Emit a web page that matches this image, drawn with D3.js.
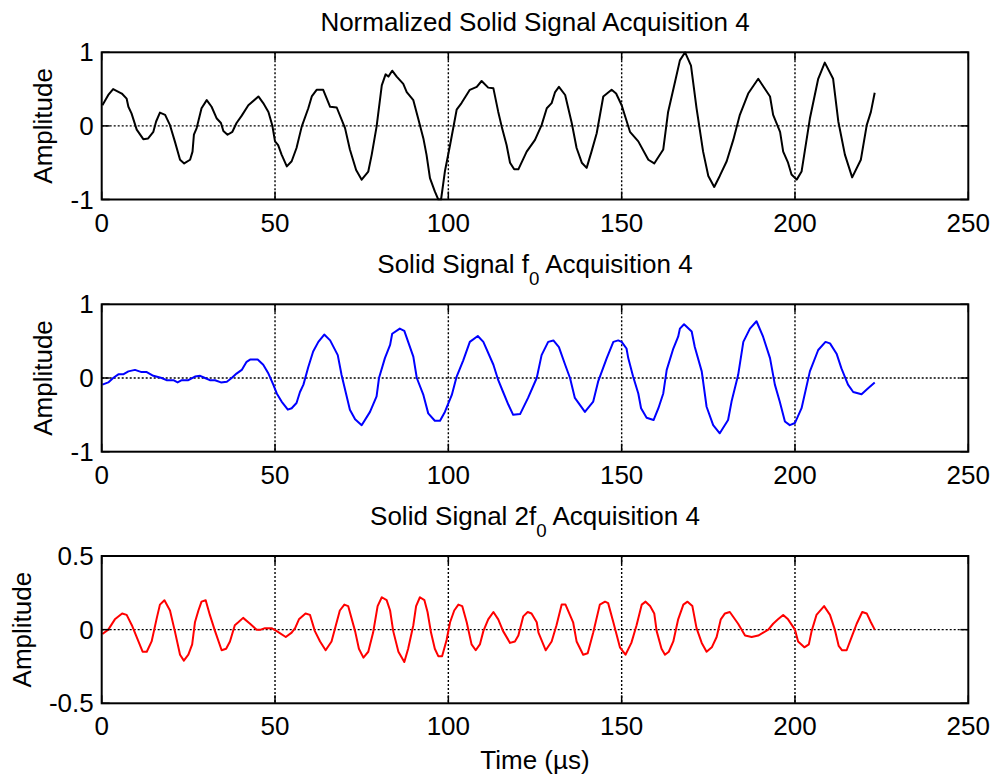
<!DOCTYPE html>
<html>
<head>
<meta charset="utf-8">
<script src="https://cdn.jsdelivr.net/npm/d3@7"></script>
<style>
  html, body { margin: 0; padding: 0; background: #fff; }
  svg text { font-family: "Liberation Sans", Arial, Helvetica, sans-serif; fill: #000; }
</style>
</head>
<body>
<svg id="fig" width="994" height="776"></svg>
<script>
// ---- Signal data (time in µs, amplitude) ----
const normT = [0.2,1.9,3.3,5.8,7.2,7.7,8.6,10.1,12.0,13.4,14.9,15.7,16.8,18.3,19.7,21.1,22.6,23.8,25.5,26.2,26.6,27.4,28.8,30.3,31.7,33.2,34.4,35.1,36.3,37.7,38.9,40.4,42.3,45.2,46.6,48.1,49.2,50.0,50.9,51.9,53.4,54.8,56.2,57.7,59.6,60.6,62.0,63.9,65.9,67.8,70.2,71.6,73.4,75.0,76.9,77.9,79.3,80.8,81.9,82.7,83.8,85.1,87.0,88.0,89.9,91.3,92.8,93.7,94.7,96.1,97.1,97.9,99.0,100.5,102.4,103.8,106.2,108.2,109.6,111.5,113.0,114.4,115.4,116.8,117.8,119.0,120.2,122.6,125.0,126.9,128.4,129.8,130.8,131.9,133.7,135.6,137.0,138.5,139.9,141.3,142.8,144.7,147.1,148.4,150.0,151.2,152.4,154.8,157.7,159.4,162.0,163.4,165.4,166.8,168.3,170.0,171.6,173.5,175.0,176.7,178.3,180.3,182.2,184.1,186.5,189.4,192.8,193.7,195.7,196.6,198.0,199.0,200.5,201.9,204.3,206.7,208.6,211.0,212.5,214.4,216.5,219.0,220.7,221.9,223.0];
const normA = [0.28,0.42,0.50,0.44,0.37,0.26,0.17,-0.05,-0.18,-0.17,-0.08,0.06,0.18,0.15,0.01,-0.21,-0.46,-0.51,-0.46,-0.35,-0.12,-0.03,0.24,0.35,0.26,0.10,0.04,-0.07,-0.12,-0.08,0.04,0.14,0.28,0.40,0.31,0.19,0.01,-0.21,-0.26,-0.39,-0.55,-0.48,-0.30,-0.01,0.24,0.40,0.49,0.49,0.26,0.25,-0.03,-0.32,-0.60,-0.73,-0.62,-0.39,-0.01,0.55,0.70,0.67,0.75,0.67,0.57,0.46,0.35,0.10,-0.17,-0.39,-0.71,-0.89,-1.00,-1.00,-0.62,-0.26,0.22,0.31,0.49,0.53,0.61,0.52,0.51,0.19,-0.01,-0.26,-0.50,-0.59,-0.59,-0.35,-0.19,0.01,0.24,0.31,0.46,0.53,0.42,0.04,-0.30,-0.50,-0.57,-0.35,-0.10,0.40,0.49,0.44,0.28,0.10,-0.08,-0.21,-0.46,-0.51,-0.32,0.19,0.60,0.89,1.00,0.82,0.24,-0.35,-0.68,-0.83,-0.68,-0.48,-0.19,0.15,0.44,0.64,0.40,0.15,-0.08,-0.35,-0.50,-0.66,-0.73,-0.62,0.10,0.64,0.86,0.64,0.06,-0.39,-0.70,-0.46,0.01,0.19,0.45];

const f0T = [0.2,1.9,3.3,4.8,6.2,7.7,9.6,11.5,13.0,14.9,17.3,18.7,20.7,21.9,23.1,25.0,26.9,28.4,29.8,31.2,32.7,34.4,36.1,37.5,38.9,40.4,41.8,42.8,45.0,46.6,48.1,49.5,50.5,51.9,53.7,54.8,56.2,57.2,58.2,59.6,61.0,62.5,64.2,65.9,68.1,69.2,71.6,73.1,75.0,77.4,79.3,80.0,81.7,83.2,83.8,86.0,87.3,89.9,90.9,92.8,94.2,96.1,97.6,99.0,101.0,102.4,104.3,106.2,108.5,110.1,113.0,114.4,115.8,117.3,118.7,120.7,123.0,125.5,126.9,128.8,130.3,131.9,133.7,135.1,136.5,139.4,141.8,143.2,145.7,147.6,149.0,150.0,151.4,151.9,153.3,154.8,155.6,157.2,159.2,160.6,162.0,163.0,164.9,166.3,166.8,168.0,170.2,171.1,173.1,174.5,176.4,178.3,180.7,181.7,183.6,185.1,187.0,188.9,190.8,192.8,194.2,195.6,197.1,198.5,200.0,201.9,204.3,206.7,208.8,210.1,212.0,213.4,215.3,216.8,219.2,221.1,223.0];
const f0A = [-0.09,-0.06,0.00,0.05,0.05,0.09,0.11,0.08,0.08,0.03,0.00,-0.03,-0.03,-0.06,-0.03,-0.03,0.02,0.03,0.00,-0.03,-0.03,-0.06,-0.05,0.00,0.06,0.11,0.22,0.25,0.25,0.18,0.06,-0.09,-0.21,-0.32,-0.43,-0.41,-0.34,-0.19,-0.09,0.15,0.36,0.49,0.59,0.51,0.31,0.04,-0.43,-0.56,-0.64,-0.46,-0.25,0.00,0.27,0.45,0.60,0.67,0.64,0.29,0.00,-0.23,-0.48,-0.58,-0.58,-0.46,-0.23,0.02,0.24,0.49,0.57,0.49,0.18,-0.03,-0.19,-0.36,-0.50,-0.49,-0.27,0.00,0.31,0.49,0.51,0.42,0.18,0.00,-0.27,-0.46,-0.32,-0.05,0.27,0.49,0.51,0.49,0.40,0.27,0.02,-0.21,-0.41,-0.54,-0.57,-0.41,-0.21,0.11,0.40,0.56,0.67,0.73,0.63,0.42,0.09,-0.39,-0.64,-0.75,-0.57,-0.32,0.04,0.49,0.67,0.77,0.56,0.27,-0.09,-0.32,-0.59,-0.64,-0.61,-0.41,0.09,0.38,0.49,0.47,0.33,0.13,-0.09,-0.19,-0.22,-0.14,-0.06];

const f2T = [0.2,1.9,3.8,5.9,7.2,8.7,10.1,11.8,13.0,14.4,15.9,16.8,18.1,19.7,21.1,22.6,23.7,25.0,26.1,26.9,27.9,28.8,30.0,31.2,32.7,34.6,35.9,37.0,38.4,39.4,40.8,42.8,44.7,45.9,47.1,49.0,50.5,53.1,54.8,55.8,56.9,58.8,60.1,61.5,63.0,64.6,66.3,68.7,70.0,71.1,73.1,74.2,75.5,76.9,78.3,79.6,80.8,82.2,83.2,84.1,85.6,87.3,88.4,89.9,90.7,91.8,93.1,94.0,95.0,96.1,97.1,98.2,99.5,100.5,101.7,102.9,104.0,105.3,106.7,107.9,109.1,110.1,111.5,113.0,114.4,115.8,117.8,119.2,120.2,121.6,122.9,124.0,125.5,126.0,128.1,129.8,131.2,132.7,133.8,136.0,137.0,138.9,140.2,141.8,143.7,145.2,146.1,147.6,149.5,151.1,152.8,154.3,155.8,156.9,158.2,159.4,160.1,161.5,162.5,163.6,164.9,166.3,167.8,169.0,170.4,171.6,173.1,174.5,176.0,177.4,178.6,179.8,181.2,183.6,185.6,187.5,189.4,192.3,193.7,195.1,196.6,198.0,200.0,200.9,202.7,204.0,204.8,206.2,208.4,210.1,211.5,212.6,213.6,214.9,216.5,217.8,219.4,220.7,221.9,223.0];
const f2A = [-0.03,0.00,0.07,0.11,0.10,0.03,-0.05,-0.15,-0.15,-0.08,0.08,0.17,0.20,0.13,-0.01,-0.17,-0.21,-0.17,-0.10,0.05,0.13,0.19,0.20,0.10,-0.01,-0.14,-0.13,-0.08,0.03,0.05,0.08,0.04,0.00,0.00,0.01,0.01,-0.01,-0.05,-0.02,0.01,0.07,0.11,0.10,-0.01,-0.08,-0.14,-0.08,0.13,0.17,0.16,-0.01,-0.13,-0.19,-0.15,-0.02,0.16,0.22,0.20,0.13,-0.01,-0.15,-0.22,-0.13,0.03,0.16,0.22,0.20,0.12,-0.02,-0.13,-0.18,-0.18,-0.07,0.05,0.13,0.17,0.16,0.05,-0.10,-0.14,-0.10,-0.01,0.07,0.12,0.07,-0.01,-0.09,-0.08,-0.04,0.09,0.12,0.11,0.05,-0.02,-0.14,-0.08,0.03,0.17,0.17,0.05,-0.08,-0.17,-0.16,-0.02,0.17,0.19,0.18,0.05,-0.12,-0.17,-0.09,0.03,0.17,0.19,0.16,0.11,-0.01,-0.13,-0.17,-0.15,-0.08,0.07,0.17,0.19,0.16,0.01,-0.09,-0.15,-0.12,-0.05,0.07,0.11,0.12,0.04,-0.04,-0.05,-0.04,0.00,0.04,0.07,0.10,0.07,0.00,-0.08,-0.12,-0.10,-0.01,0.10,0.16,0.10,0.00,-0.11,-0.14,-0.14,-0.04,0.04,0.12,0.11,0.05,0.00];

// ---- Tick labels ----
const xTicks = [0, 50, 100, 150, 200, 250];
const yTicksUnit = [-1, 0, 1];
const yTickLabelsUnit = ["-1", "0", "1"];
const yTicksHalf = [-0.5, 0, 0.5];
const yTickLabelsHalf = ["-0.5", "0", "0.5"];

// ---- Panels ----
const panels = [
  { title: [{t: "Normalized Solid Signal Acquisition 4"}], t: normT, a: normA, color: "#000000",
    top: 52.3, bottom: 199.5, yDomain: [-1, 1], yTicks: yTicksUnit, yLabels: yTickLabelsUnit, ylabelX: 52 },
  { title: [{t: "Solid Signal f"}, {t: "0", sub: true}, {t: " Acquisition 4"}], t: f0T, a: f0A, color: "#0000ff",
    top: 304.3, bottom: 451.7, yDomain: [-1, 1], yTicks: yTicksUnit, yLabels: yTickLabelsUnit, ylabelX: 52 },
  { title: [{t: "Solid Signal 2f"}, {t: "0", sub: true}, {t: " Acquisition 4"}], t: f2T, a: f2A, color: "#ff0000",
    top: 556, bottom: 703.3, yDomain: [-0.5, 0.5], yTicks: yTicksHalf, yLabels: yTickLabelsHalf, ylabelX: 31 }
];

const left = 101.7, right = 968.3;
const fs = 26;
const tickLen = 8;
const svg = d3.select("#fig");

panels.forEach((p, i) => {
  const x = d3.scaleLinear().domain([0, 250]).range([left, right]);
  const y = d3.scaleLinear().domain(p.yDomain).range([p.bottom, p.top]);
  const g = svg.append("g");

  const clipId = "clip" + i;
  svg.append("clipPath").attr("id", clipId)
    .append("rect").attr("x", left).attr("y", p.top - 1)
    .attr("width", right - left).attr("height", p.bottom - p.top + 2);

  // dotted grid
  const grid = g.append("g").attr("stroke", "#000").attr("stroke-width", 1.4)
    .attr("stroke-dasharray", "2,2").attr("fill", "none");
  xTicks.slice(1, -1).forEach(v => {
    grid.append("line").attr("x1", x(v)).attr("x2", x(v)).attr("y1", p.top).attr("y2", p.bottom);
  });
  p.yTicks.slice(1, -1).forEach(v => {
    grid.append("line").attr("x1", left).attr("x2", right).attr("y1", y(v)).attr("y2", y(v));
  });

  // signal trace
  const pts = p.t.map((tv, k) => [tv, p.a[k]]);
  g.append("path").datum(pts)
    .attr("clip-path", `url(#${clipId})`)
    .attr("fill", "none").attr("stroke", p.color).attr("stroke-width", 2)
    .attr("stroke-linejoin", "round")
    .attr("d", d3.line().x(d => x(d[0])).y(d => y(d[1])));

  // axes box
  g.append("rect").attr("x", left).attr("y", p.top)
    .attr("width", right - left).attr("height", p.bottom - p.top)
    .attr("fill", "none").attr("stroke", "#000").attr("stroke-width", 2);

  // inward ticks on all four sides
  const tk = g.append("g").attr("stroke", "#000").attr("stroke-width", 1.5);
  xTicks.forEach(v => {
    tk.append("line").attr("x1", x(v)).attr("x2", x(v)).attr("y1", p.bottom).attr("y2", p.bottom - tickLen);
    tk.append("line").attr("x1", x(v)).attr("x2", x(v)).attr("y1", p.top).attr("y2", p.top + tickLen);
  });
  p.yTicks.forEach(v => {
    tk.append("line").attr("x1", left).attr("x2", left + tickLen).attr("y1", y(v)).attr("y2", y(v));
    tk.append("line").attr("x1", right).attr("x2", right - tickLen).attr("y1", y(v)).attr("y2", y(v));
  });

  // x tick labels
  xTicks.forEach(v => {
    g.append("text").attr("x", x(v)).attr("y", p.bottom + 32)
      .attr("text-anchor", "middle").attr("font-size", fs).text(v);
  });
  // y tick labels
  p.yTicks.forEach((v, k) => {
    g.append("text").attr("x", left - 8).attr("y", y(v) + 9)
      .attr("text-anchor", "end").attr("font-size", fs).text(p.yLabels[k]);
  });

  // y axis label
  g.append("text")
    .attr("transform", `translate(${p.ylabelX},${(p.top + p.bottom) / 2}) rotate(-90)`)
    .attr("text-anchor", "middle").attr("font-size", fs).text("Amplitude");

  // title, with subscript where needed
  const hasSub = p.title.some(s => s.sub);
  const tt = g.append("text").attr("x", (left + right) / 2)
    .attr("y", hasSub ? p.top - 31 : p.top - 21)
    .attr("text-anchor", "middle").attr("font-size", fs);
  let down = false;
  p.title.forEach(s => {
    const span = tt.append("tspan").text(s.t);
    if (s.sub) { span.attr("dy", 12).attr("font-size", fs * 0.72); down = true; }
    else if (down) { span.attr("dy", -12); down = false; }
  });
});

// x axis label
svg.append("text").attr("x", (left + right) / 2).attr("y", 769)
  .attr("text-anchor", "middle").attr("font-size", fs).text("Time (µs)");
</script>
</body>
</html>
